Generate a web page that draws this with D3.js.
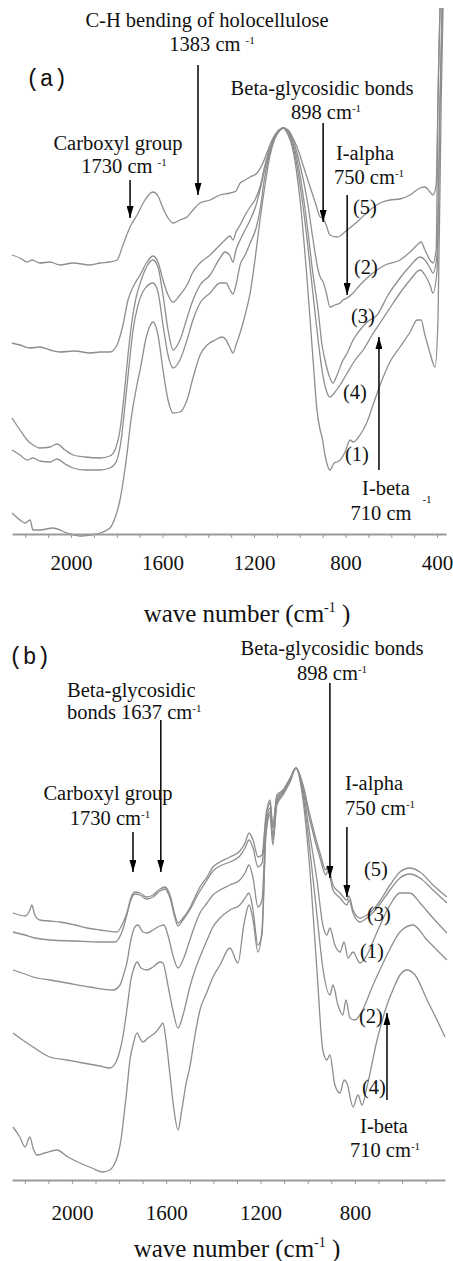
<!DOCTYPE html>
<meta charset="utf-8">
<script src="https://d3js.org/d3.v7.min.js"></script>
<style>
  body { margin: 0; background: #fff; }
  svg { display: block; }
  .spec { fill: none; stroke: #8e8e8e; stroke-width: 1.3; }
  .note { font-family: "Liberation Serif", "Times New Roman", serif; font-size: 20.5px; fill: #111; }
  .panel { font-family: "Liberation Mono", "Courier New", monospace; font-size: 23px; fill: #111; }
  .title { font-family: "Liberation Serif", "Times New Roman", serif; font-size: 25px; fill: #111; }
  .xaxis path, .xaxis line { stroke: #9a9a9a; }
  .xaxis path { stroke-width: 2; }
  .arrow { stroke: #000; stroke-width: 1.5; }
</style>
<div id="chart"></div>
<script>

// ---- panel (a): spectra, [wave number, absorbance (a.u.)]
var topS5 = [[2258,279],[2223,276],[2192,272],[2170,274],[2136,271],[2092,272],[2048,269],[1991,271],[1917,269],[1873,271],[1830,272],[1799,274],[1773,289],[1742,307],[1711,319],[1677,334],[1642,342],[1620,338],[1598,326],[1576,316],[1554,311],[1524,314],[1493,317],[1467,324],[1436,331],[1392,334],[1349,339],[1305,341],[1279,343],[1261,351],[1239,354],[1217,357],[1187,361],[1161,371],[1139,384],[1117,396],[1095,403],[1073,406],[1051,404],[1030,396],[1012,387],[986,369],[955,347],[929,329],[911,317],[898,316],[885,309],[868,299],[837,297],[793,304],[750,312],[693,324],[649,331],[606,334],[562,335],[518,339],[474,346],[453,347],[431,342],[418,339],[404,349],[396,434],[387,526]];
var topS2 = [[2258,191],[2223,189],[2179,186],[2136,187],[2092,184],[2048,182],[1983,183],[1917,181],[1873,182],[1830,182],[1799,189],[1773,209],[1751,234],[1729,247],[1698,259],[1668,272],[1642,278],[1620,272],[1598,254],[1576,239],[1554,232],[1524,239],[1493,249],[1467,262],[1436,271],[1392,279],[1349,289],[1327,294],[1305,298],[1292,294],[1279,302],[1261,309],[1239,319],[1217,327],[1196,334],[1174,347],[1152,369],[1130,387],[1108,399],[1086,405],[1073,406],[1051,403],[1030,394],[999,369],[968,334],[942,294],[920,264],[911,257],[898,252],[885,242],[868,227],[846,229],[824,231],[811,234],[793,236],[767,241],[737,249],[706,256],[680,261],[627,269],[562,274],[518,282],[487,289],[470,292],[453,284],[431,274],[418,271],[404,284],[396,434],[387,526]];
var topS3 = [[2258,116],[2223,104],[2192,94],[2166,89],[2136,86],[2092,87],[2061,90],[2026,84],[1991,79],[1939,77],[1873,76],[1830,78],[1808,84],[1786,104],[1768,139],[1751,179],[1733,214],[1716,236],[1690,256],[1668,268],[1642,274],[1620,267],[1598,239],[1576,204],[1554,184],[1524,194],[1493,216],[1467,234],[1436,249],[1392,259],[1349,276],[1327,282],[1305,278],[1292,272],[1279,284],[1261,294],[1239,304],[1217,314],[1191,329],[1174,344],[1152,366],[1130,384],[1108,397],[1086,404],[1073,406],[1051,402],[1030,391],[999,359],[968,309],[942,259],[920,224],[903,189],[890,174],[868,156],[855,151],[837,159],[815,172],[793,181],[767,194],[737,204],[706,212],[662,219],[614,239],[562,256],[518,268],[474,277],[453,274],[431,266],[418,261],[400,279],[387,434],[378,526]];
var topS4 = [[2258,84],[2223,79],[2192,74],[2166,76],[2136,73],[2092,72],[2061,75],[2026,70],[1991,66],[1939,64],[1873,64],[1830,66],[1803,72],[1781,94],[1764,129],[1746,169],[1729,204],[1707,229],[1681,244],[1642,251],[1620,242],[1598,209],[1576,179],[1554,166],[1524,174],[1493,194],[1467,214],[1436,231],[1392,241],[1349,251],[1322,251],[1305,244],[1292,240],[1279,249],[1261,269],[1239,279],[1217,291],[1191,306],[1174,324],[1152,359],[1130,382],[1108,396],[1086,404],[1073,406],[1051,401],[1030,388],[999,349],[968,294],[942,239],[920,194],[903,164],[885,144],[868,137],[846,142],[824,149],[793,161],[758,174],[723,184],[684,199],[649,211],[606,226],[562,241],[518,254],[474,264],[453,259],[431,249],[418,241],[400,264],[387,434],[378,526]];
var topS1 = [[2258,21],[2223,14],[2201,11],[2179,14],[2166,4],[2136,4],[2079,6],[2017,1],[1961,-2],[1917,-1],[1873,1],[1830,6],[1808,16],[1786,34],[1768,59],[1755,81],[1738,114],[1716,144],[1694,169],[1672,196],[1655,208],[1642,212],[1620,199],[1598,164],[1576,134],[1554,121],[1524,122],[1493,134],[1467,156],[1436,179],[1405,189],[1370,194],[1340,197],[1322,194],[1305,186],[1292,181],[1279,189],[1261,201],[1239,219],[1217,241],[1196,274],[1174,314],[1152,349],[1130,379],[1108,396],[1086,404],[1073,406],[1051,399],[1030,384],[999,334],[968,254],[942,174],[925,124],[911,104],[903,97],[890,79],[868,64],[850,71],[837,72],[824,74],[802,82],[780,94],[767,92],[737,99],[706,112],[680,129],[649,149],[606,172],[562,187],[518,202],[487,214],[470,214],[453,199],[431,181],[409,167],[396,214],[382,434],[374,526]];

// ---- panel (b)
var botS5 = [[2250,267],[2199,264],[2178,270],[2170,275],[2157,265],[2136,260],[2093,259],[2051,258],[1987,255],[1936,252],[1881,250],[1809,248],[1788,255],[1767,267],[1750,282],[1733,288],[1712,287],[1682,283],[1656,285],[1627,291],[1606,293],[1584,285],[1563,265],[1550,257],[1529,262],[1500,272],[1478,283],[1457,293],[1427,303],[1402,313],[1372,318],[1330,323],[1288,329],[1266,337],[1249,347],[1232,340],[1211,323],[1194,325],[1177,365],[1160,380],[1148,355],[1131,385],[1105,390],[1075,402],[1050,412],[1020,395],[991,365],[948,327],[923,310],[914,314],[893,295],[863,287],[834,280],[825,284],[808,270],[779,262],[749,265],[706,275],[651,295],[609,308],[567,312],[524,308],[469,295],[410,283]];
var botS3 = [[2250,248],[2199,245],[2157,242],[2093,240],[1987,239],[1881,238],[1818,238],[1788,248],[1767,265],[1750,280],[1733,286],[1712,285],[1682,281],[1656,283],[1627,289],[1606,291],[1584,282],[1563,262],[1550,254],[1529,260],[1500,270],[1478,280],[1457,289],[1427,300],[1402,309],[1372,314],[1330,318],[1288,324],[1266,332],[1249,340],[1232,332],[1211,313],[1194,317],[1177,362],[1160,377],[1148,352],[1131,383],[1105,389],[1075,401],[1050,412],[1020,393],[991,360],[948,322],[923,305],[914,309],[893,290],[863,282],[834,275],[825,280],[808,267],[779,258],[749,262],[706,272],[651,290],[609,302],[567,306],[524,302],[469,290],[410,277]];
var botS1 = [[2250,210],[2199,206],[2165,203],[2093,200],[2021,197],[1924,193],[1826,190],[1796,195],[1779,207],[1767,217],[1750,240],[1733,253],[1720,255],[1699,248],[1682,247],[1656,250],[1627,254],[1610,255],[1593,245],[1572,225],[1550,212],[1529,220],[1500,240],[1478,255],[1457,267],[1427,277],[1402,285],[1372,290],[1330,295],[1288,300],[1266,307],[1249,315],[1232,302],[1211,273],[1194,280],[1177,355],[1160,372],[1148,345],[1131,380],[1105,388],[1075,400],[1050,412],[1020,390],[991,345],[961,300],[936,255],[919,245],[906,252],[885,235],[863,228],[846,238],[829,222],[808,228],[779,217],[749,225],[706,248],[651,275],[609,287],[567,287],[524,277],[469,262],[410,247]];
var botS2 = [[2250,147],[2221,142],[2165,133],[2093,123],[2021,120],[1953,117],[1881,114],[1839,112],[1813,118],[1796,130],[1784,143],[1767,170],[1750,200],[1737,212],[1724,218],[1707,212],[1682,210],[1656,213],[1627,218],[1614,217],[1593,195],[1572,170],[1550,152],[1529,165],[1500,193],[1478,210],[1457,223],[1427,240],[1402,253],[1372,262],[1330,270],[1288,275],[1266,282],[1249,287],[1232,270],[1211,235],[1194,245],[1177,350],[1160,368],[1148,340],[1131,377],[1105,387],[1075,399],[1050,412],[1020,385],[991,330],[961,265],[936,212],[906,185],[893,195],[872,175],[851,165],[838,180],[821,162],[800,160],[779,165],[723,195],[664,225],[609,248],[554,255],[494,240],[410,220]];
var botS4 = [[2250,53],[2221,43],[2199,33],[2178,43],[2165,32],[2148,25],[2115,27],[2064,30],[2017,23],[1966,17],[1915,12],[1869,8],[1839,10],[1822,15],[1805,25],[1792,40],[1779,65],[1767,90],[1754,120],[1741,135],[1724,147],[1712,142],[1699,138],[1678,142],[1648,147],[1627,153],[1614,157],[1601,140],[1584,105],[1567,70],[1550,50],[1534,70],[1517,95],[1500,113],[1478,145],[1457,170],[1427,188],[1402,203],[1372,215],[1330,232],[1296,217],[1271,255],[1249,275],[1232,260],[1211,228],[1194,250],[1177,345],[1160,365],[1148,335],[1131,375],[1105,385],[1075,398],[1050,412],[1020,380],[991,310],[961,210],[936,130],[919,120],[906,125],[885,95],[863,87],[846,100],[834,97],[808,73],[787,85],[770,75],[749,93],[706,140],[664,175],[639,190],[609,205],[579,210],[545,205],[494,180],[452,160],[418,143]];

// tick labels
var topTickLabels = [2000, 1600, 1200, 800, 400];
var botTickLabels = [2000, 1600, 1200, 800];

// arrows: [wave number, tail (a.u.), head (a.u.)]
var topArrows = [[1742, 354, 316], [1445, 469, 339], [898, 411, 312], [793, 339, 239], [654, 64, 197]];
var botArrows = [[1741, 348, 308], [1623, 460, 308], [906, 497, 302], [834, 353, 283], [664, 80, 167]];

var W = 453, H = 1261;
var serif = '"Liberation Serif", "Times New Roman", serif';

var svg = d3.select("#chart").append("svg")
  .attr("width", W).attr("height", H);
svg.append("rect").attr("width", W).attr("height", H).attr("fill", "#fff");

svg.append("defs").append("marker")
  .attr("id", "head")
  .attr("viewBox", "0 0 12 7")
  .attr("refX", 12).attr("refY", 3.5)
  .attr("markerWidth", 12).attr("markerHeight", 7)
  .attr("markerUnits", "userSpaceOnUse")
  .attr("orient", "auto")
  .append("path").attr("d", "M0,0L12,3.5L0,7Z").attr("fill", "#000");

// scales
var xA = d3.scaleLinear().domain([2258, 361]).range([12, 446]);
var yA = d3.scaleLinear().domain([0, 400]).range([534, 134]);
var xB = d3.scaleLinear().domain([2254, 418]).range([12, 445]);
var yB = d3.scaleLinear().domain([0, 400]).range([1180, 780]);

function drawSpectra(series, x, y) {
  var line = d3.line()
    .x(function(d) { return x(d[0]); })
    .y(function(d) { return y(d[1]); })
    .curve(d3.curveMonotoneX);
  svg.append("g").selectAll("path")
    .data(series)
    .enter().append("path")
    .attr("class", "spec")
    .attr("d", line);
}

function drawAxis(x, yPos, labels, textY, lo) {
  var ax = d3.axisBottom(x)
    .tickValues(d3.range(2200, lo, -100))
    .tickSize(4).tickSizeOuter(0)
    .tickFormat(function(d) { return labels.indexOf(d) >= 0 ? d : ""; });
  var g = svg.append("g").attr("class", "xaxis")
    .attr("transform", "translate(0," + yPos + ")")
    .call(ax)
    .attr("font-family", serif)
    .attr("font-size", 21);
  g.selectAll("text").attr("y", textY).attr("dy", 0)
    .style("font-family", serif).style("font-size", "21px").attr("fill", "#111");
}

function drawArrows(arr, x, y) {
  svg.append("g").selectAll("line")
    .data(arr)
    .enter().append("line")
    .attr("class", "arrow")
    .attr("x1", function(d) { return x(d[0]); })
    .attr("x2", function(d) { return x(d[0]); })
    .attr("y1", function(d) { return y(d[1]); })
    .attr("y2", function(d) { return y(d[2]); })
    .attr("marker-end", "url(#head)");
}

// text with optional small raised "-1"
function note(x, y, main, sup, rest, anchor, cls) {
  var big = cls === "title";
  var t = svg.append("text")
    .attr("class", cls || "note")
    .attr("x", x).attr("y", y)
    .attr("text-anchor", anchor || "middle");
  t.append("tspan").text(main);
  if (sup) {
    t.append("tspan").style("font-size", big ? "14px" : "11px").attr("dy", big ? -10 : -7).text(sup);
    if (rest) t.append("tspan").attr("dy", big ? 10 : 7).text(rest);
  }
  return t;
}

// ---------- panel (a)
drawSpectra([topS5, topS2, topS3, topS4, topS1], xA, yA);
drawAxis(xA, 534, topTickLabels, 36, 350);
drawArrows(topArrows, xA, yA);

note(207, 27, "C-H bending of holocellulose");
note(212, 51, "1383 cm ", "-1");
svg.append("text").attr("class", "panel").attr("x", 26).attr("y", 86).text("(a)");
note(322, 95, "Beta-glycosidic bonds");
note(326, 119, "898 cm", "-1");
note(118, 150, "Carboxyl group");
note(124, 173, "1730 cm ", "-1");
note(365, 160, "I-alpha");
note(369, 184, "750 cm", "-1");
note(365, 214, "(5)");
note(366, 274, "(2)");
note(363, 323, "(3)");
note(355, 399, "(4)");
note(357, 461, "(1)");
note(386, 495, "I-beta");
note(381, 520, "710 cm");
note(427, 503, "-1").style("font-size", "11px");
note(247, 622, "wave number (cm", "-1", " )", "middle", "title");

// ---------- panel (b)
drawSpectra([botS5, botS3, botS1, botS2, botS4], xB, yB);
drawAxis(xB, 1180, botTickLabels, 40, 400);
drawArrows(botArrows, xB, yB);

svg.append("text").attr("class", "panel").attr("x", 9).attr("y", 664).text("(b)");
note(332, 655, "Beta-glycosidic bonds");
note(332, 680, "898 cm", "-1");
note(67, 697, "Beta-glycosidic", null, null, "start");
note(67, 719, "bonds 1637 cm", "-1", null, "start");
note(108, 800, "Carboxyl group");
note(110, 825, "1730 cm", "-1");
note(374, 790, "I-alpha");
note(380, 815, "750 cm", "-1");
note(376, 876, "(5)");
note(379, 921, "(3)");
note(372, 958, "(1)");
note(371, 1023, "(2)");
note(374, 1094, "(4)");
note(384, 1133, "I-beta");
note(385, 1157, "710 cm", "-1");
note(237, 1257, "wave number (cm", "-1", " )", "middle", "title");

</script>
